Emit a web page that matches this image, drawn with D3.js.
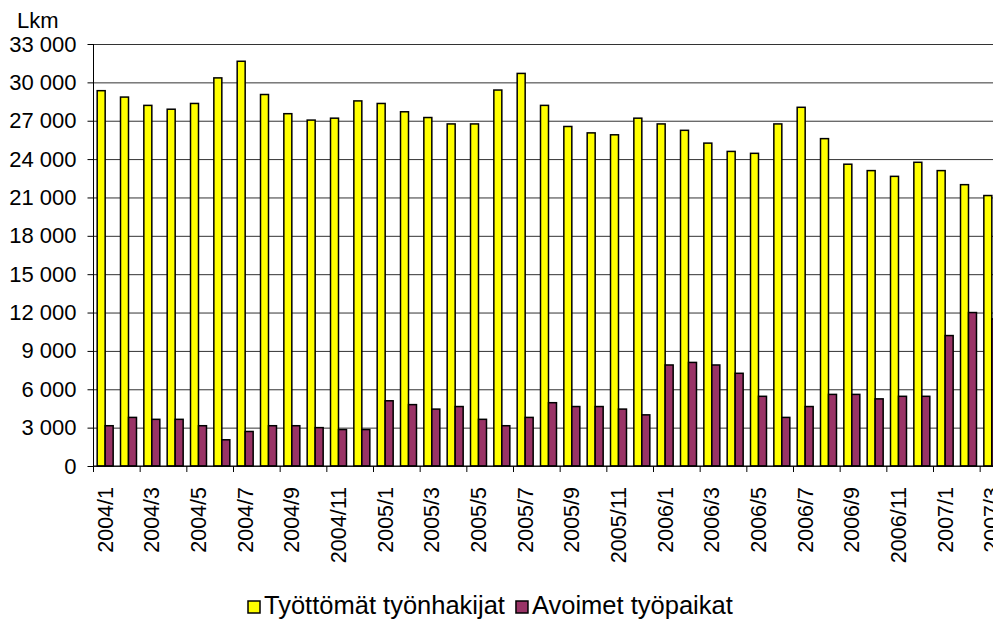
<!DOCTYPE html>
<meta charset="utf-8">
<html>
<head>
<title>Työttömät ja avoimet</title>
<style>
  body { margin: 0; background: #fff; font-family: 'Liberation Sans', Arial, sans-serif; }
  svg { display: block; }
  .axis text { font-family: 'Liberation Sans', Arial, sans-serif; font-size: 22px; fill: #000; }
  .legend text { font-family: 'Liberation Sans', Arial, sans-serif; font-size: 25.5px; fill: #000; }
</style>
</head>
<body>
<div id="chart"></div>
<script src="https://cdn.jsdelivr.net/npm/d3@7/dist/d3.min.js"></script>
<script>

// months 2004/1 .. 2007/3
var months = [
  "2004/1","2004/2","2004/3","2004/4","2004/5","2004/6","2004/7","2004/8","2004/9","2004/10","2004/11","2004/12",
  "2005/1","2005/2","2005/3","2005/4","2005/5","2005/6","2005/7","2005/8","2005/9","2005/10","2005/11","2005/12",
  "2006/1","2006/2","2006/3","2006/4","2006/5","2006/6","2006/7","2006/8","2006/9","2006/10","2006/11","2006/12",
  "2007/1","2007/2","2007/3"
];

var seriesNames = ["Työttömät työnhakijat", "Avoimet työpaikat"];
var colors = ["#FFFF00", "#993366"];

var tyottomat = [
  29350, 28850, 28200, 27900, 28350, 30350, 31650, 29050, 27550, 27050, 27200, 28550,
  28350, 27700, 27250, 26750, 26750, 29400, 30700, 28200, 26550, 26050, 25900, 27200,
  26750, 26250, 25250, 24600, 24450, 26750, 28050, 25600, 23600, 23100, 22650, 23750,
  23100, 22000, 21150
];

var avoimet = [
  3150, 3800, 3650, 3650, 3150, 2050, 2700, 3150, 3150, 3000, 2850, 2850,
  5100, 4800, 4450, 4650, 3650, 3150, 3800, 4950, 4650, 4650, 4450, 4000,
  7900, 8100, 7900, 7250, 5450, 3800, 4650, 5600, 5600, 5250, 5450, 5450,
  10200, 12000, 11500
];

var yTicks = [0, 3000, 6000, 9000, 12000, 15000, 18000, 21000, 24000, 27000, 30000, 33000];

var width = 993, height = 619;
var plotLeft = 93.5, plotTop = 44, plotBottom = 466, plotRight = 1003.5;

var svg = d3.select("#chart").append("svg")
    .attr("width", width)
    .attr("height", height);

var fmt = d3.formatLocale({decimal: ",", thousands: " ", grouping: [3], currency: ["", ""]}).format(",d");

var x = d3.scaleBand().domain(months).range([plotLeft, plotRight]).padding(0);
var xs = d3.scaleBand().domain([0, 1]).range([0, x.bandwidth()]).paddingInner(0).paddingOuter(0.46);
var y = d3.scaleLinear().domain([0, 33000]).range([plotBottom, plotTop]);

// gridlines
svg.append("g")
    .attr("transform", "translate(" + plotLeft + ",0)")
    .call(d3.axisLeft(y).tickValues(yTicks).tickSize(-(plotRight - plotLeft)).tickFormat(""))
    .call(function(g) { g.select(".domain").remove(); })
    .selectAll("line").attr("stroke", "#333");

// bars
var rows = months.map(function(m, i) { return {m: m, v: [tyottomat[i], avoimet[i]]}; });
var groups = svg.append("g").selectAll("g")
  .data(rows).enter().append("g")
    .attr("transform", function(d) { return "translate(" + x(d.m) + ",0)"; });

groups.selectAll("rect")
  .data(function(d) { return d.v; }).enter()
  .append("rect")
    .attr("x", function(d, i) { return xs(i); })
    .attr("width", xs.bandwidth())
    .attr("y", function(d) { return y(d); })
    .attr("height", function(d) { return y(0) - y(d); })
    .attr("fill", function(d, i) { return colors[i]; })
    .attr("stroke", "#000")
    .attr("stroke-width", 1.5);

// y axis
var yAxis = svg.append("g")
    .attr("class", "axis")
    .attr("transform", "translate(" + plotLeft + ",0)")
    .call(d3.axisLeft(y).tickValues(yTicks).tickSize(6).tickPadding(11).tickFormat(fmt));
yAxis.select(".domain").attr("stroke", "#000").attr("d", "M0," + plotTop + "V" + plotBottom);
yAxis.selectAll("line").attr("stroke", "#000");

// x axis
var xg = svg.append("g").attr("class", "axis");
xg.append("line")
    .attr("x1", plotLeft).attr("x2", plotRight)
    .attr("y1", plotBottom).attr("y2", plotBottom)
    .attr("stroke", "#000");

var every2 = months.filter(function(d, i) { return i % 2 === 0; });
xg.selectAll(".tick")
  .data(every2).enter()
  .append("line")
    .attr("x1", function(d) { return x(d); })
    .attr("x2", function(d) { return x(d); })
    .attr("y1", plotBottom).attr("y2", plotBottom + 6)
    .attr("stroke", "#000");

xg.selectAll(".lbl")
  .data(every2).enter()
  .append("text")
    .attr("transform", function(d) { return "translate(" + (x(d) + x.bandwidth() / 2) + ",487) rotate(-90)"; })
    .attr("text-anchor", "end")
    .attr("dy", "0.35em")
    .style("font-size", "21.5px")
    .text(function(d) { return d; });

// unit label
svg.append("text")
    .attr("class", "axis")
    .attr("x", 17).attr("y", 28)
    .style("font-size", "22px")
    .text("Lkm");

// legend
var legend = svg.append("g").attr("class", "legend");
var lx = 248;
seriesNames.forEach(function(name, i) {
  legend.append("rect")
      .attr("x", lx).attr("y", 601)
      .attr("width", 12).attr("height", 12)
      .attr("fill", colors[i])
      .attr("stroke", "#000")
      .attr("stroke-width", 1.5);
  var t = legend.append("text")
      .attr("x", lx + 16).attr("y", 614)
      .text(name);
  lx = lx + 16 + t.node().getComputedTextLength() + 11;
});

</script>
</body>
</html>
